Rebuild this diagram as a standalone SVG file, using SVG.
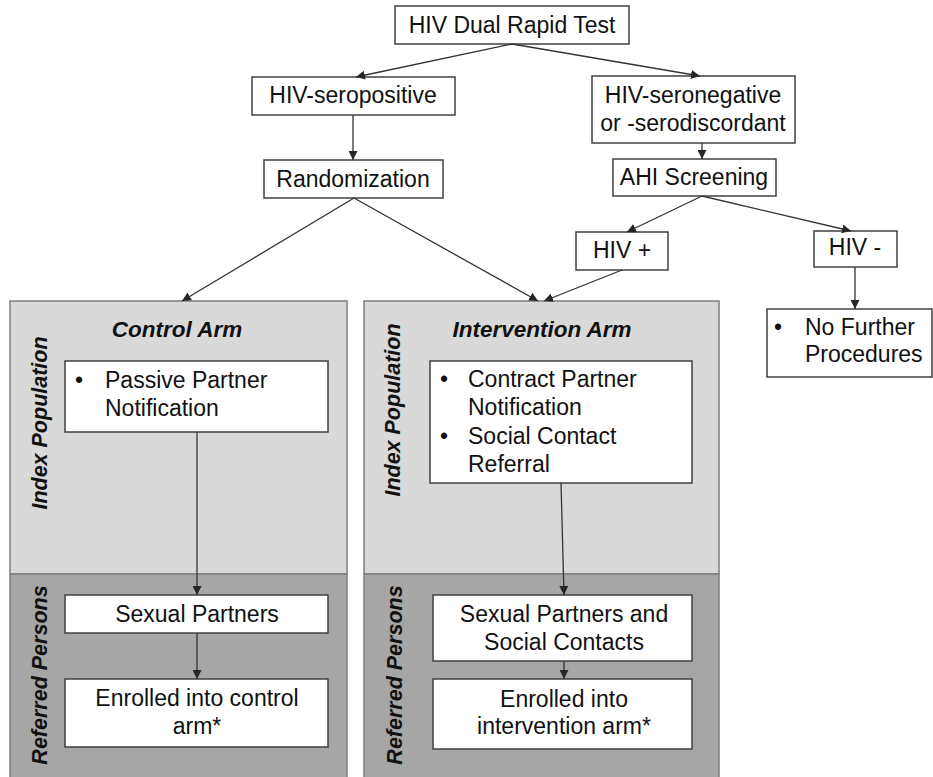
<svg xmlns="http://www.w3.org/2000/svg" width="933" height="777" viewBox="0 0 933 777">
<defs>
<marker id="ah" viewBox="0 0 10 10" refX="10" refY="5" markerWidth="9" markerHeight="9" markerUnits="userSpaceOnUse" orient="auto">
<path d="M0,0 L10,5 L0,10 z" fill="#262626"/>
</marker>
<style>
.box{fill:#fff;stroke:#404040;stroke-width:1.5}
.t{font-family:"Liberation Sans",Arial,sans-serif;font-size:23px;fill:#111}
.c{text-anchor:middle}
.h{font-family:"Liberation Sans",Arial,sans-serif;font-size:22.5px;font-weight:bold;font-style:italic;fill:#111;text-anchor:middle}
.v{font-family:"Liberation Sans",Arial,sans-serif;font-size:21.5px;font-weight:bold;font-style:italic;fill:#111;text-anchor:middle}
.pt{fill:#d9d9d9;stroke:#7f7f7f;stroke-width:1.5}
.pb{fill:#a6a6a6;stroke:#7f7f7f;stroke-width:1.5}
.ln{stroke:#333;stroke-width:1.3;fill:none;marker-end:url(#ah)}
</style>
</defs>
<rect width="933" height="777" fill="#fff"/>

<g id="control-arm">
<rect class="pt" x="10" y="301" width="337" height="273"/>
<rect class="pb" x="10" y="574" width="337" height="210"/>
<text class="h" x="177" y="337">Control Arm</text>
<text class="v" transform="translate(47,423) rotate(-90)">Index Population</text>
<text class="v" transform="translate(47,675) rotate(-90)">Referred Persons</text>
</g>

<g id="intervention-arm">
<rect class="pt" x="364" y="301" width="355" height="273"/>
<rect class="pb" x="364" y="574" width="355" height="210"/>
<text class="h" x="542" y="337">Intervention Arm</text>
<text class="v" transform="translate(400,410) rotate(-90)">Index Population</text>
<text class="v" transform="translate(402,675) rotate(-90)">Referred Persons</text>
</g>

<g id="dual-test">
<rect class="box" x="395" y="6" width="234" height="38"/>
<text class="t c" x="512" y="33">HIV Dual Rapid Test</text>
</g>
<g id="seropositive">
<rect class="box" x="252" y="77" width="203" height="38"/>
<text class="t c" x="353" y="103">HIV-seropositive</text>
</g>
<g id="randomization">
<rect class="box" x="264" y="160" width="179" height="38"/>
<text class="t c" x="353" y="187">Randomization</text>
</g>
<g id="seronegative">
<rect class="box" x="592" y="76" width="203" height="67"/>
<text class="t c" x="693" y="103">HIV-seronegative</text>
<text class="t c" x="693" y="131">or -serodiscordant</text>
</g>
<g id="ahi">
<rect class="box" x="613" y="159" width="163" height="37"/>
<text class="t c" x="694" y="185">AHI Screening</text>
</g>
<g id="hiv-pos">
<rect class="box" x="576" y="232" width="92" height="38"/>
<text class="t c" x="622" y="258">HIV +</text>
</g>
<g id="hiv-neg">
<rect class="box" x="814" y="231" width="83" height="36"/>
<text class="t c" x="855" y="255">HIV -</text>
</g>
<g id="no-further">
<rect class="box" x="767" y="309" width="165" height="68"/>
<text class="t" x="774" y="335">•</text>
<text class="t" x="805" y="335">No Further</text>
<text class="t" x="805" y="362">Procedures</text>
</g>

<g id="passive">
<rect class="box" x="65" y="361" width="263" height="71"/>
<text class="t" x="75" y="388">•</text>
<text class="t" x="105" y="388">Passive Partner</text>
<text class="t" x="105" y="416">Notification</text>
</g>
<g id="sexual-partners">
<rect class="box" x="65" y="595" width="263" height="38"/>
<text class="t c" x="197" y="622">Sexual Partners</text>
</g>
<g id="enrolled-control">
<rect class="box" x="65" y="679" width="263" height="68"/>
<text class="t c" x="197" y="706">Enrolled into control</text>
<text class="t c" x="197" y="734">arm*</text>
</g>

<g id="contract">
<rect class="box" x="430" y="361" width="262" height="122"/>
<text class="t" x="440" y="387">•</text>
<text class="t" x="468" y="387">Contract Partner</text>
<text class="t" x="468" y="415">Notification</text>
<text class="t" x="440" y="444">•</text>
<text class="t" x="468" y="444">Social Contact</text>
<text class="t" x="468" y="472">Referral</text>
</g>
<g id="sp-sc">
<rect class="box" x="433" y="595" width="259" height="66"/>
<text class="t c" x="564" y="622">Sexual Partners and</text>
<text class="t c" x="564" y="650">Social Contacts</text>
</g>
<g id="enrolled-intervention">
<rect class="box" x="433" y="679" width="259" height="70"/>
<text class="t c" x="564" y="707">Enrolled into</text>
<text class="t c" x="564" y="734">intervention arm*</text>
</g>

<g id="connectors">
<line class="ln" x1="512" y1="44" x2="356" y2="77"/>
<line class="ln" x1="512" y1="44" x2="700" y2="76"/>
<line class="ln" x1="353" y1="115" x2="353" y2="160"/>
<line class="ln" x1="702" y1="143" x2="702" y2="159"/>
<line class="ln" x1="354" y1="198" x2="182" y2="301"/>
<line class="ln" x1="354" y1="198" x2="538" y2="301"/>
<line class="ln" x1="702" y1="196" x2="627" y2="232"/>
<line class="ln" x1="702" y1="196" x2="851" y2="231"/>
<line class="ln" x1="622" y1="270" x2="544" y2="301"/>
<line class="ln" x1="855" y1="267" x2="855" y2="309"/>
<line class="ln" x1="197" y1="432" x2="197" y2="595"/>
<line class="ln" x1="197" y1="633" x2="197" y2="679"/>
<line class="ln" x1="561" y1="483" x2="564" y2="595"/>
<line class="ln" x1="564" y1="661" x2="564" y2="679"/>
</g>
</svg>
